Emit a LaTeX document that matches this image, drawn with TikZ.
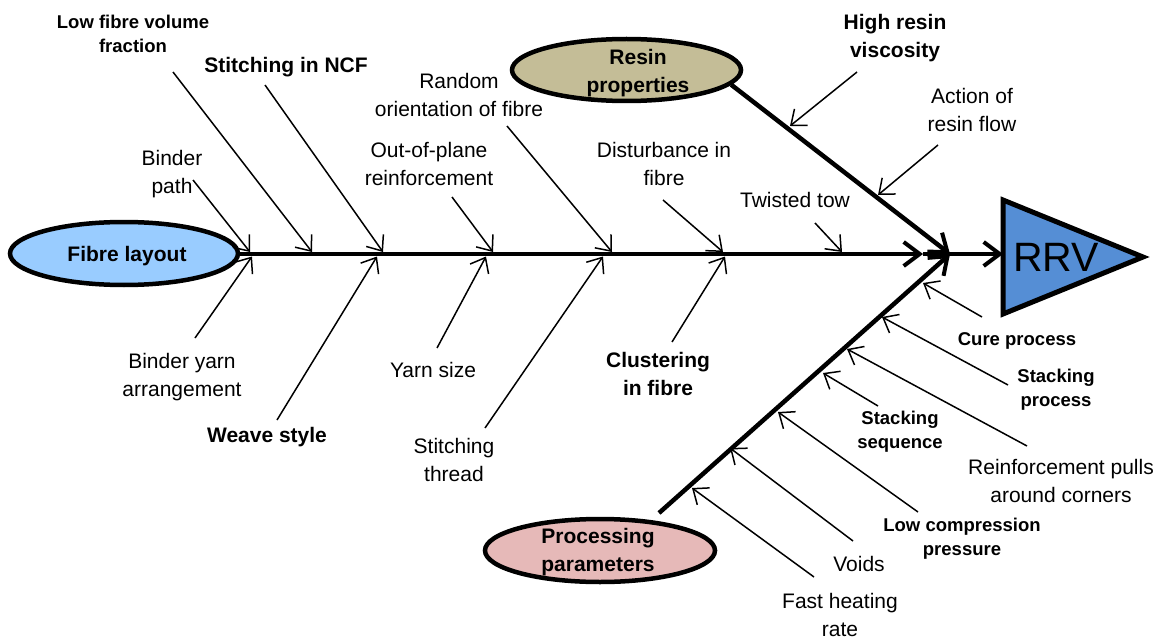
\documentclass[tikz,border=0pt]{standalone}
\usepackage{fontspec}
\setmainfont{Liberation Sans}
\usetikzlibrary{arrows.meta,shapes.geometric}
\definecolor{fibreblue}{HTML}{99CCFF}
\definecolor{resintan}{HTML}{C4BD97}
\definecolor{procpink}{HTML}{E6B9B8}
\definecolor{rrvblue}{HTML}{558ED5}
\tikzset{
  bone/.style={line width=1.5pt, -{Straight Barb[length=13pt,width=21pt,line width=1.5pt]}},
  bigline/.style={line width=4.5pt},
  bigtip/.style={-{Straight Barb[length=16pt,width=24pt,line width=4pt]}},
  txt/.style={align=center, inner sep=0pt, font=\fontsize{21}{28}\selectfont},
  btxt/.style={align=center, inner sep=0pt, font=\fontsize{21}{28}\selectfont\bfseries},
  sbtxt/.style={align=center, inner sep=0pt, font=\fontsize{18.5}{24}\selectfont\bfseries},
  oval/.style={ellipse, draw, line width=4.5pt, inner sep=0pt},
}
\begin{document}
\begin{tikzpicture}[x=1pt,y=-1pt]
\useasboundingbox (0,0) rectangle (1158,639);

% category ovals
\node[oval, fill=fibreblue, minimum width=228pt, minimum height=63pt] (fib) at (124,253.5) {};
\node[btxt] (fibt) at (127,256) {Fibre layout};
\node[oval, fill=resintan, minimum width=229pt, minimum height=62pt] (resin) at (626.5,70) {};
\node[btxt] (resint) at (638,73) {Resin\\properties};
\node[oval, fill=procpink, minimum width=230pt, minimum height=63pt] (proc) at (600,550.5) {};
\node[btxt] (proct) at (598,552) {Processing\\parameters};

% effect
\coordinate (ta) at (1003,200);
\coordinate (tb) at (1143,257);
\coordinate (tc) at (1003,314);
\draw[line width=5pt, fill=rrvblue, line join=miter] (ta) -- (tb) -- (tc) -- cycle;
\node[inner sep=0pt, font=\fontsize{41}{41}\selectfont] (rrv) at (1056,257) {RRV};
\coordinate (rrvL) at (1003,254);

% main spine and branches
\coordinate (J) at (950,254);
\coordinate (sp1) at (923,254);
\coordinate (ps) at (659,513);
\draw[bigline, bigtip] (fib.east |- J) -- (sp1);
\draw[bigline] (sp1) -- (J);
\draw[bigline, bigtip] (resin.-8) -- (J);
\draw[bigline, bigtip] (ps) -- (J);
\draw[bigline, bigtip] (J) -- (rrvL);

% labels
\node[txt]   (l1)  at (172,174) {Binder\\path};
\node[sbtxt] (l2)  at (133,34)  {Low fibre volume\\fraction};
\node[btxt]  (l3)  at (286,67)  {Stitching in NCF};
\node[txt]   (l4)  at (429,164) {Out-of-plane\\reinforcement};
\node[txt]   (l5)  at (459,95)  {Random\\orientation of fibre};
\node[txt]   (l6)  at (664,164) {Disturbance in\\fibre};
\node[txt]   (l7)  at (795,200) {Twisted tow};
\node[btxt]  (l8)  at (895,38)  {High resin\\viscosity};
\node[txt]   (l9)  at (972,110) {Action of\\resin flow};
\node[txt]   (l10) at (182,377) {Binder yarn\\arrangement};
\node[btxt]  (l11) at (267,437) {Weave style};
\node[txt]   (l12) at (433,370) {Yarn size};
\node[txt]   (l13) at (454,460) {Stitching\\thread};
\node[btxt]  (l14) at (658,374) {Clustering\\in fibre};
\node[sbtxt] (l15) at (1017,341) {Cure process};
\node[sbtxt] (l16) at (1056,390) {Stacking\\process};
\node[txt]   (l17) at (1061,481) {Reinforcement pulls\\around corners};
\node[sbtxt] (l18) at (900,432) {Stacking\\sequence};
\node[sbtxt] (l19) at (962,539) {Low compression\\pressure};
\node[txt]   (l20) at (859,564) {Voids};
\node[txt]   (l21) at (840,615) {Fast heating\\rate};

% bone end points
\coordinate (s1) at (193,180);  \coordinate (t1) at (250,252);
\coordinate (s2) at (173,72);   \coordinate (t2) at (312,252);
\coordinate (s3) at (265,85);   \coordinate (t3) at (383,252);
\coordinate (s4) at (452,197);  \coordinate (t4) at (493,252);
\coordinate (s5) at (507,126);  \coordinate (t5) at (612,252);
\coordinate (s6) at (663,200);  \coordinate (t6) at (723,252);
\coordinate (s7) at (815,223);  \coordinate (t7) at (842,252);
\coordinate (s8) at (857,72);   \coordinate (t8) at (790,126);
\coordinate (s9) at (938,145);  \coordinate (t9) at (878,195);
\coordinate (s10) at (195,338); \coordinate (t10) at (252,256.5);
\coordinate (s11) at (277,420); \coordinate (t11) at (377,256.5);
\coordinate (s12) at (437,348); \coordinate (t12) at (486,256.5);
\coordinate (s13) at (485,428); \coordinate (t13) at (603,256.5);
\coordinate (s14) at (672,342); \coordinate (t14) at (725,256.5);
\coordinate (s15) at (982,317); \coordinate (t15) at (923,283);
\coordinate (s16) at (1008,385);\coordinate (t16) at (882,317);
\coordinate (s17) at (1027,446);\coordinate (t17) at (847,349);
\coordinate (s18) at (878,406); \coordinate (t18) at (823,373);
\coordinate (s19) at (918,512); \coordinate (t19) at (778,412);
\coordinate (s20) at (853,541); \coordinate (t20) at (730,448);
\coordinate (s21) at (814,577); \coordinate (t21) at (692,488);

\foreach \i in {1,...,21} { \draw[bone] (s\i) -- (t\i); }
\end{tikzpicture}
\end{document}
